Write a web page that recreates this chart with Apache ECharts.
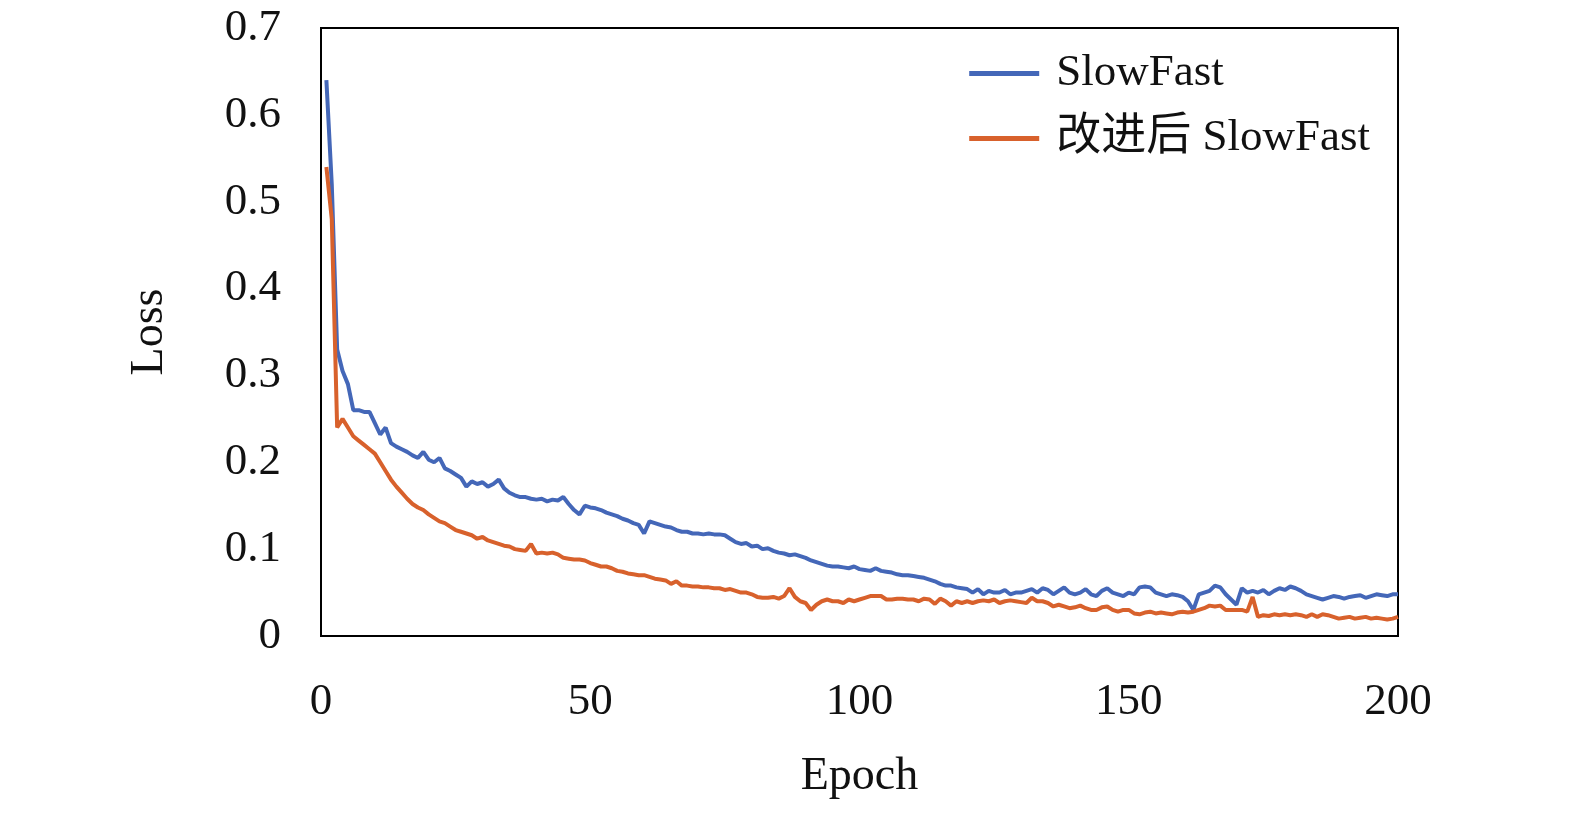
<!DOCTYPE html>
<html><head><meta charset="utf-8">
<script src="https://cdn.jsdelivr.net/npm/echarts@6/dist/echarts.min.js"></script>
<style>html,body{margin:0;padding:0;background:#fff}#c{width:1575px;height:815px}</style>
</head><body><div id="c"></div>
<script>
const seriesNames = ['SlowFast', '改进后 SlowFast'];
const xTicks = [0, 50, 100, 150, 200];
const yTicks = [0, 0.1, 0.2, 0.3, 0.4, 0.5, 0.6, 0.7];
const slowfast = [
0.64,0.52,0.33,0.305,0.29,0.26,0.26,0.258,0.258,0.245,
0.232,0.24,0.222,0.218,0.215,0.212,0.208,0.205,0.212,0.203,
0.200,0.205,0.193,0.190,0.186,0.182,0.172,0.178,0.175,0.177,
0.172,0.175,0.180,0.170,0.165,0.162,0.160,0.160,0.158,0.157,
0.158,0.155,0.157,0.156,0.160,0.152,0.145,0.140,0.150,0.148,
0.147,0.145,0.142,0.140,0.138,0.135,0.133,0.130,0.128,0.118,
0.132,0.130,0.128,0.126,0.125,0.122,0.120,0.120,0.118,0.118,
0.117,0.118,0.117,0.117,0.116,0.112,0.108,0.106,0.107,0.103,
0.104,0.100,0.101,0.098,0.096,0.095,0.093,0.094,0.092,0.090,
0.087,0.085,0.083,0.081,0.080,0.080,0.079,0.078,0.080,0.077,
0.076,0.075,0.078,0.075,0.074,0.073,0.071,0.070,0.070,0.069,
0.068,0.067,0.065,0.063,0.060,0.058,0.058,0.056,0.055,0.054,
0.050,0.054,0.048,0.052,0.050,0.050,0.053,0.048,0.050,0.050,
0.052,0.054,0.050,0.055,0.053,0.048,0.052,0.056,0.050,0.048,
0.050,0.054,0.048,0.046,0.052,0.055,0.050,0.048,0.046,0.050,
0.048,0.056,0.057,0.056,0.050,0.048,0.046,0.048,0.047,0.045,
0.040,0.030,0.048,0.050,0.052,0.058,0.056,0.048,0.042,0.036,
0.055,0.050,0.052,0.050,0.053,0.048,0.052,0.055,0.053,0.057,
0.055,0.052,0.048,0.046,0.044,0.042,0.044,0.046,0.045,0.043,
0.045,0.046,0.047,0.044,0.046,0.048,0.047,0.046,0.048,0.048];
const improved = [
0.54,0.48,0.24,0.25,0.24,0.23,0.225,0.22,0.215,0.21,
0.20,0.19,0.18,0.172,0.165,0.158,0.152,0.148,0.145,0.140,
0.136,0.132,0.130,0.126,0.122,0.120,0.118,0.116,0.112,0.114,
0.110,0.108,0.106,0.104,0.103,0.100,0.099,0.098,0.106,0.095,
0.096,0.095,0.096,0.094,0.090,0.089,0.088,0.088,0.087,0.084,
0.082,0.080,0.080,0.078,0.075,0.074,0.072,0.071,0.070,0.070,
0.068,0.066,0.065,0.064,0.060,0.063,0.058,0.058,0.057,0.057,
0.056,0.056,0.055,0.055,0.053,0.054,0.052,0.050,0.050,0.048,
0.045,0.044,0.044,0.045,0.043,0.046,0.055,0.045,0.040,0.038,
0.030,0.036,0.040,0.042,0.040,0.040,0.038,0.042,0.040,0.042,
0.044,0.046,0.046,0.046,0.042,0.042,0.043,0.043,0.042,0.042,
0.040,0.043,0.042,0.037,0.043,0.040,0.035,0.040,0.038,0.040,
0.038,0.040,0.041,0.040,0.042,0.038,0.040,0.041,0.040,0.039,
0.038,0.044,0.040,0.040,0.038,0.034,0.036,0.034,0.032,0.033,
0.035,0.032,0.030,0.030,0.033,0.034,0.030,0.028,0.030,0.030,
0.026,0.025,0.027,0.028,0.026,0.027,0.026,0.025,0.027,0.028,
0.027,0.028,0.030,0.032,0.035,0.034,0.035,0.030,0.030,0.030,
0.030,0.028,0.045,0.022,0.024,0.023,0.025,0.024,0.025,0.024,
0.025,0.024,0.022,0.025,0.022,0.025,0.024,0.022,0.020,0.021,
0.022,0.020,0.021,0.022,0.020,0.021,0.020,0.019,0.020,0.022];
const epochs = slowfast.map((_, i) => i + 1);
const font = '"Liberation Serif","Noto Sans CJK SC",serif';
const chart = echarts.init(document.getElementById('c'));
chart.setOption({
  animation: false,
  grid: {left: 321, right: 177, top: 28, bottom: 179, show: true, borderColor: '#000', borderWidth: 2},
  legend: {
    right: 200, top: 46, orient: 'vertical', itemWidth: 70, itemHeight: 5, itemGap: 20,
    icon: 'rect',
    textStyle: {fontFamily: font, fontSize: 45, color: '#111', padding: [0, 0, 0, 12]},
    data: seriesNames
  },
  xAxis: {
    type: 'value', min: 0, max: 200, interval: 50,
    name: 'Epoch', nameLocation: 'middle', nameGap: 118,
    nameTextStyle: {fontFamily: font, fontSize: 46, color: '#111'},
    axisLine: {lineStyle: {color: '#000', width: 2}},
    axisTick: {show: false},
    axisLabel: {fontFamily: font, fontSize: 45, color: '#111', margin: 44,
      formatter: v => xTicks.includes(v) ? String(v) : ''},
    splitLine: {show: false}
  },
  yAxis: {
    type: 'value', min: 0, max: 0.7, interval: 0.1,
    name: 'Loss', nameLocation: 'middle', nameGap: 148,
    nameTextStyle: {fontFamily: font, fontSize: 46, color: '#111'},
    axisLine: {lineStyle: {color: '#000', width: 2}},
    axisTick: {show: false},
    axisLabel: {fontFamily: font, fontSize: 45, color: '#111', margin: 40,
      formatter: v => { const t = yTicks.find(k => Math.abs(k - v) < 1e-6); return t === undefined ? '' : (t === 0 ? '0' : t.toFixed(1)); }},
    splitLine: {show: false}
  },
  series: [
    {name: seriesNames[0], type: 'line', showSymbol: false, data: epochs.map((e, i) => [e, slowfast[i]]),
      lineStyle: {color: '#4467b8', width: 4}, itemStyle: {color: '#4467b8'}},
    {name: seriesNames[1], type: 'line', showSymbol: false, data: epochs.map((e, i) => [e, improved[i]]),
      lineStyle: {color: '#d8612c', width: 4}, itemStyle: {color: '#d8612c'}}
  ]
});
</script></body></html>
